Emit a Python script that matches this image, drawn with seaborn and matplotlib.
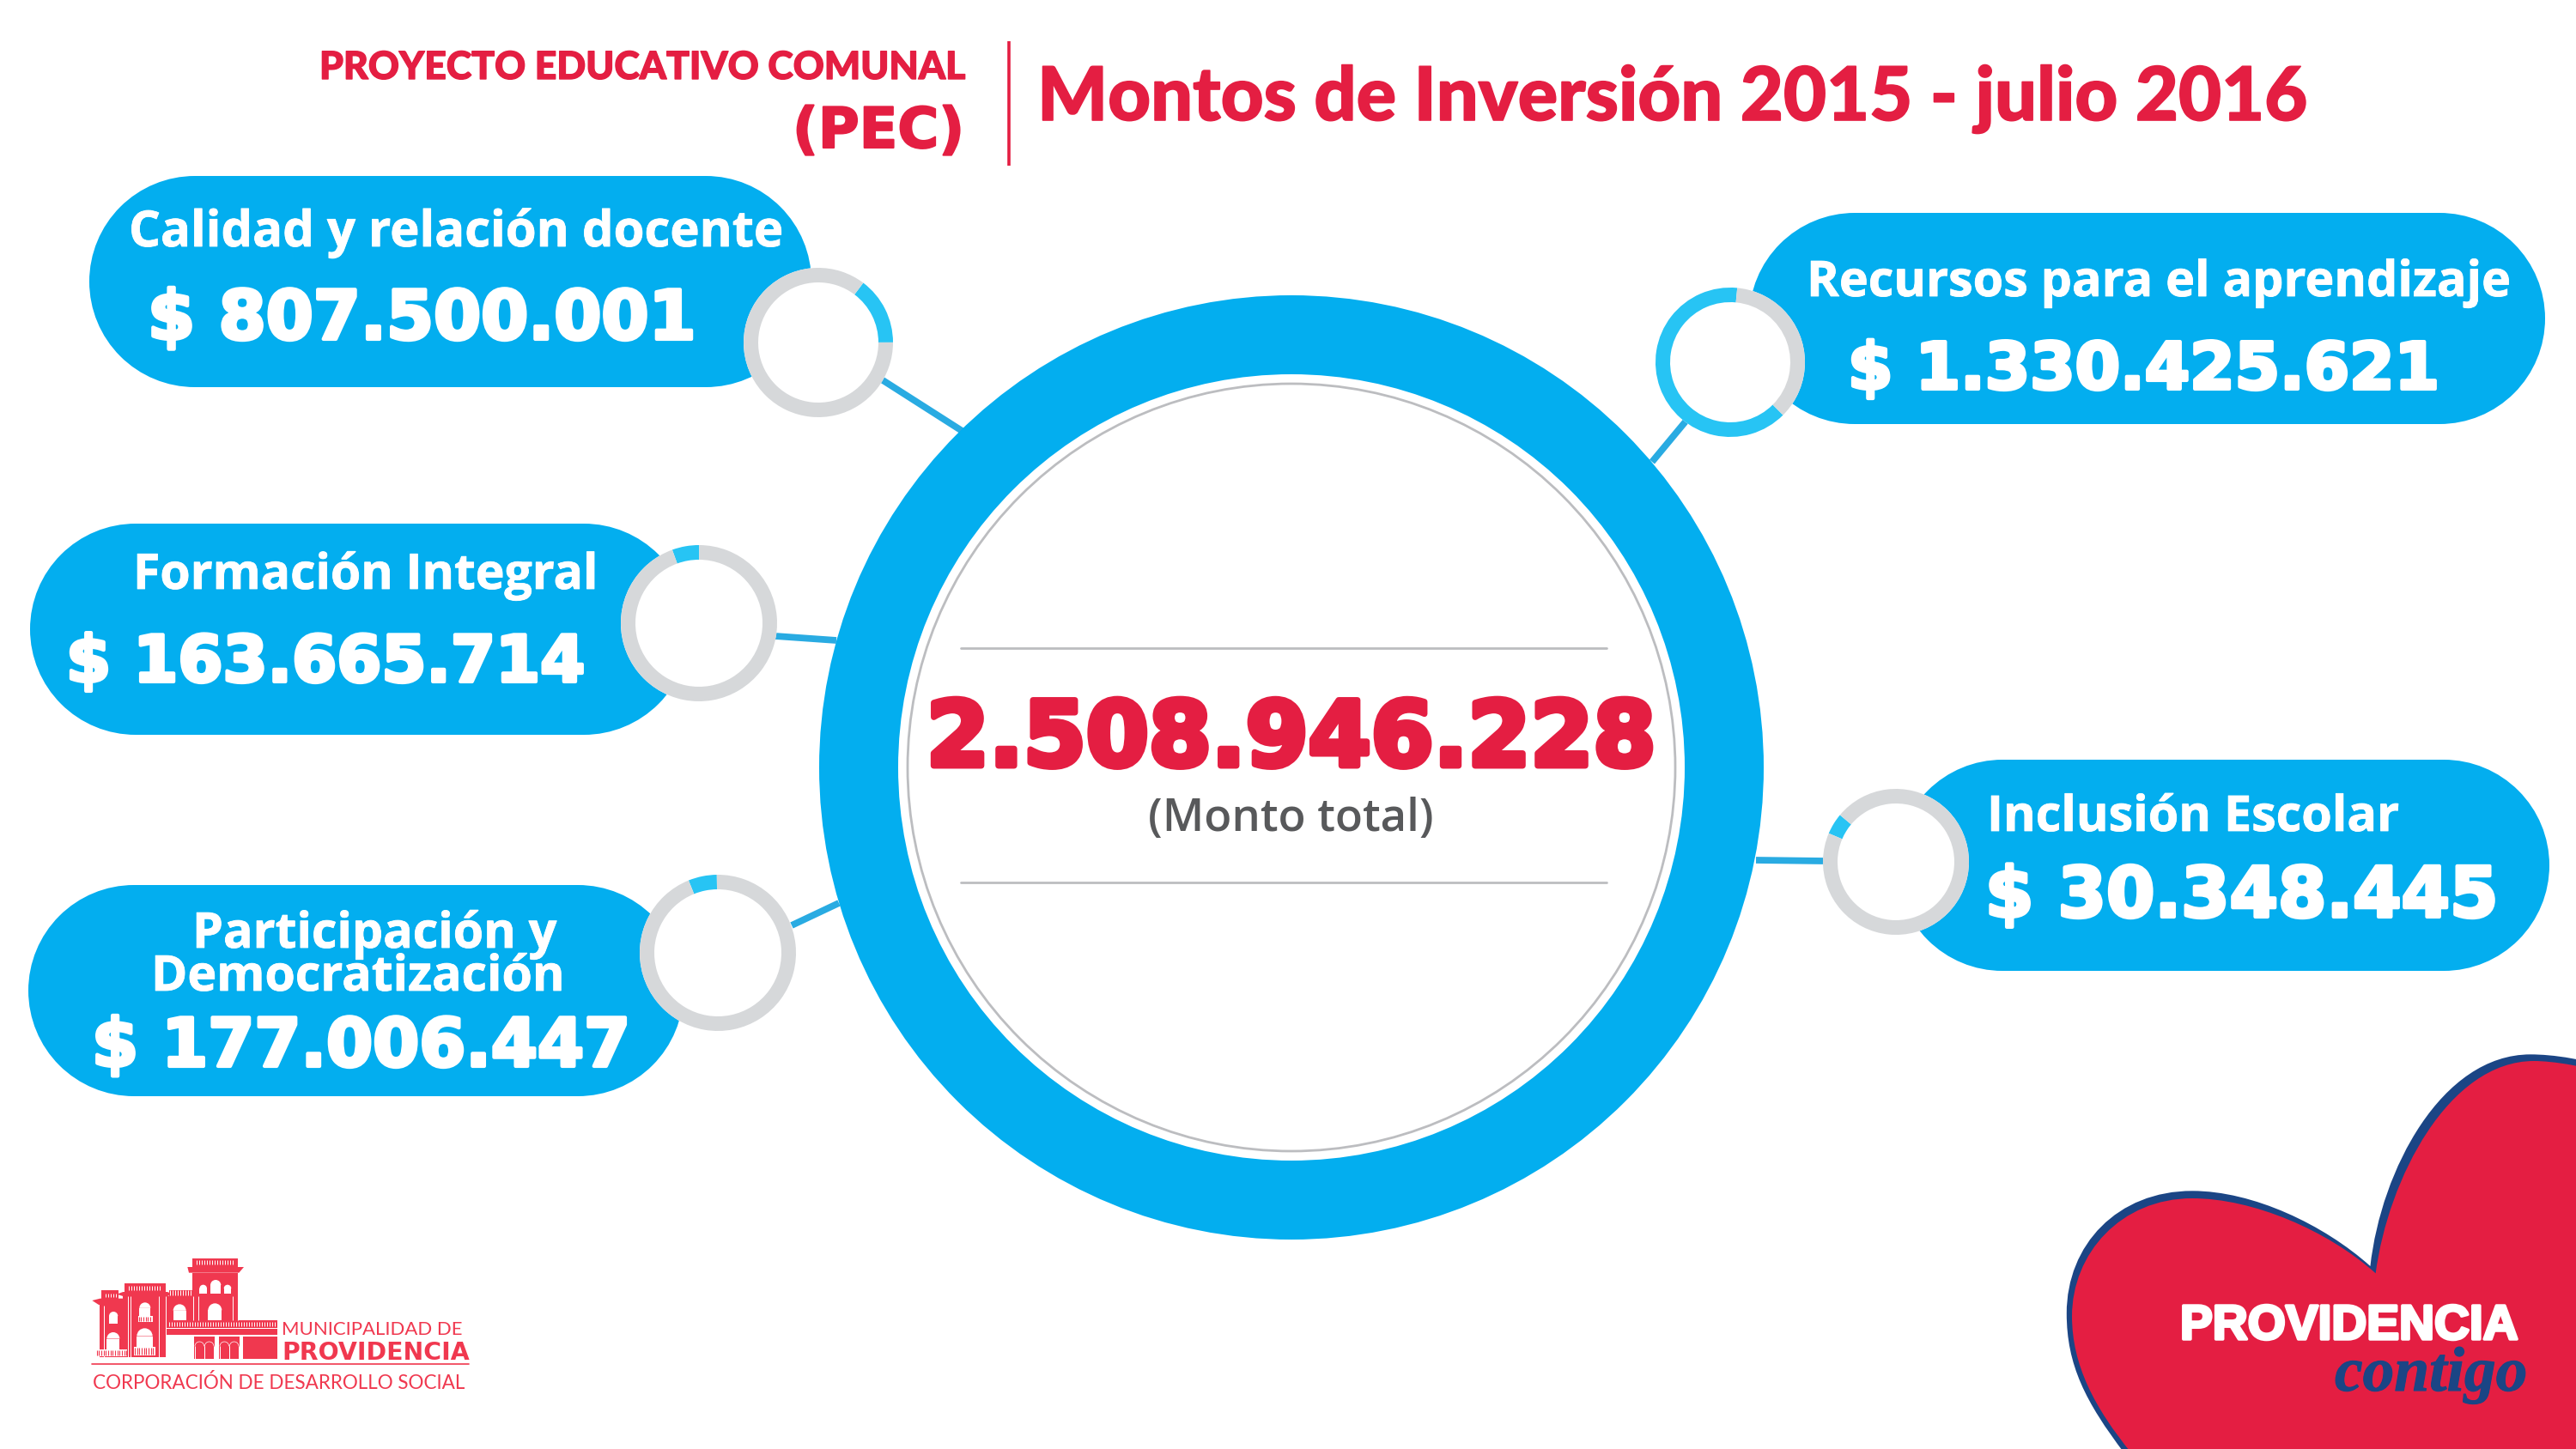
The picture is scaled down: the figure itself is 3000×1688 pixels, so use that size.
"""
Montos de Inversión PEC 2015 - julio 2016 (infografía).
"""

import matplotlib
matplotlib.use('Agg')
import matplotlib.pyplot as plt
import matplotlib.patheffects as pe
from matplotlib.patches import Circle, Rectangle, PathPatch, Wedge, Polygon
from matplotlib.path import Path
import seaborn as sns

# ── Datos ──────────────────────────────────────────────────────────────────────

CATEGORIAS = ['Calidad y relación docente', 'Recursos para el aprendizaje',
              'Formación Integral', 'Participación y\nDemocratización', 'Inclusión Escolar']
MONTOS = ['$ 807.500.001', '$ 1.330.425.621', '$ 163.665.714', '$ 177.006.447', '$ 30.348.445']
# porcentaje del anillo pintado
ARCO_PCT = [14.7, 64.0, 5.6, 5.9, 4.7]
MONTO_TOTAL = '2.508.946.228'

# ── Layout (px sobre 3000x1688, y hacia abajo) ─────────────────────────────────

W, H = 3000, 1688
AZUL, CELESTE, GRIS = '#03aeef', '#27c4f4', '#d6d8da'
LINEA = '#29abe2'
ROJO, ROJO_LOGO, MARINO = '#e41e42', '#f0384f', '#1b4585'

PILDORAS = [(104, 945, 205, 451), (2037, 2964, 248, 494), (35, 803, 610, 856),
            (33, 796, 1031, 1277), (2209, 2969, 885, 1131)]
ANILLOS = [(953, 399, 87), (2015, 422, 87), (814, 726, 91), (836, 1110, 91), (2208, 1004, 85)]
ANILLO_INICIO = [37, 135, 340, 338, 293]   # grados horarios desde arriba
CONECTORES = [((1025, 441), (1122, 503)), ((1963, 491), (1924, 538)),
              ((903, 741), (974, 746)), ((922, 1078), (977, 1052)), ((2045, 1002), (2123, 1003))]
ROTULOS = [[(150, 911, 287)], [(2104, 2923, 345)], [(155, 696, 686)],
           [(224, 648, 1104), (176, 657, 1154)], [(2314, 2794, 968)]]
MONTO_POS = [(172, 809, 397), (2152, 2840, 455), (77, 681, 796), (107, 733, 1244), (2312, 2908, 1070)]

CENTRO = (1504, 894)

sns.set_theme(style='white')
plt.rcParams['font.family'] = ['Lato', 'DejaVu Sans']

fig, ax = plt.subplots(figsize=(W / 100, H / 100), dpi=100)
ax.set_position([0, 0, 1, 1])


def Y(y):
    return H - y


def fit_text(s, x0, x1, base, grosor=0, **kw):
    # ajusta el tamaño de fuente al ancho medido en la imagen
    t = ax.text(x0, Y(base), s, va='baseline', ha='left', fontsize=40, **kw)
    w = t.get_window_extent(fig.canvas.get_renderer()).width
    t.set_fontsize(40 * (x1 - x0) / w)
    if grosor:
        # la fuente original es más pesada que las instaladas
        t.set_path_effects([pe.withStroke(linewidth=grosor, foreground=t.get_color())])
    return t


def pildora(x0, x1, y0, y1, color):
    r = (y1 - y0) / 2
    ax.add_patch(Rectangle((x0 + r, Y(y1)), x1 - x0 - 2 * r, y1 - y0, fc=color, ec='none', zorder=3))
    ax.add_patch(Circle((x0 + r, Y(y0 + r)), r, fc=color, ec='none', zorder=3))
    ax.add_patch(Circle((x1 - r, Y(y0 + r)), r, fc=color, ec='none', zorder=3))


# ── Conectores y separadores ───────────────────────────────────────────────────

for (a, b) in CONECTORES:
    sns.lineplot(x=[a[0], b[0]], y=[Y(a[1]), Y(b[1])], sort=False, estimator=None, ax=ax,
                 color=LINEA, linewidth=5.6, solid_capstyle='butt', zorder=2)

# ── Círculo central ────────────────────────────────────────────────────────────

cx, cy = CENTRO[0], Y(CENTRO[1])
ax.add_patch(Circle((cx, cy), 550, fc=AZUL, ec='none', zorder=3))
ax.add_patch(Circle((cx, cy), 458, fc='white', ec='none', zorder=3))
ax.add_patch(Circle((cx, cy), 447, fc='white', ec='#bcbdc0', lw=2, zorder=3))

for y in (755, 1028):
    sns.lineplot(x=[1119, 1871], y=[Y(y), Y(y)], sort=False, estimator=None, ax=ax,
                 color='#bcbdc0', linewidth=2, zorder=4)

fit_text(MONTO_TOTAL, 1079, 1927, 892, grosor=5, color=ROJO, family='DejaVu Sans', weight='bold', zorder=5)
fit_text('(Monto total)', 1337, 1669, 968, color='#58595b', family='Open Sans', weight='semibold', zorder=5)

# ── Píldoras, anillos y textos ─────────────────────────────────────────────────

for i, cat in enumerate(CATEGORIAS):
    pildora(*PILDORAS[i], AZUL)

    for linea, (x0, x1, base) in zip(cat.split('\n'), ROTULOS[i]):
        fit_text(linea, x0, x1, base, grosor=0.6, color='white', family='Open Sans', weight='bold', zorder=6)
    x0, x1, base = MONTO_POS[i]
    fit_text(MONTOS[i], x0, x1, base - 2, grosor=3, color='white', family='DejaVu Sans',
             weight='bold', zorder=6)

    x, y, r = ANILLOS[i]
    ax.add_patch(Circle((x, Y(y)), r, fc='white', ec='none', zorder=4))
    ax.pie([ARCO_PCT[i], 100 - ARCO_PCT[i]], colors=[CELESTE, GRIS], center=(x, Y(y)), radius=r,
           startangle=90 - ANILLO_INICIO[i], counterclock=False,
           wedgeprops=dict(width=17, edgecolor='none', zorder=5))

# ── Encabezado ─────────────────────────────────────────────────────────────────

fit_text('PROYECTO EDUCATIVO COMUNAL', 372, 1124, 92, grosor=1, color=ROJO, weight='black')
fit_text('(PEC)', 923, 1123, 172, grosor=1.5, color=ROJO, family='DejaVu Sans', weight='bold')
ax.plot([1175, 1175], [Y(48), Y(193)], color=ROJO, lw=2.6, solid_capstyle='butt')
fit_text('Montos de Inversión 2015 - julio 2016', 1208, 2685, 140, grosor=1.2, color=ROJO, weight='black')

# ── Corazón "Providencia contigo" ──────────────────────────────────────────────


def hx(x):
    return 2350 + x / 2.412


def hy(y):
    return Y(1200 + y / 3)


def corazon(puntos, color, z):
    verts = [(hx(x), hy(y)) for x, y in puntos]
    codes = [Path.MOVETO] + [Path.CURVE4] * (len(verts) - 1)
    verts += [(hx(1700), hy(1500)), (hx(320), hy(1500)), (hx(320), hy(1500))]
    codes += [Path.LINETO, Path.LINETO, Path.CLOSEPOLY]
    ax.add_patch(PathPatch(Path(verts, codes), fc=color, ec='none', zorder=z))


corazon([(300, 1480), (190, 1300), (137, 1170), (137, 990), (137, 750), (280, 562), (490, 562),
         (660, 562), (860, 680), (990, 825), (1020, 490), (1190, 85), (1440, 85),
         (1500, 85), (1600, 100), (1700, 150)], MARINO, 2)
corazon([(320, 1480), (215, 1320), (152, 1170), (152, 1000), (152, 780), (290, 588), (490, 588),
         (660, 588), (870, 700), (1005, 850), (1040, 520), (1210, 108), (1450, 108),
         (1500, 108), (1600, 125), (1700, 170)], ROJO, 3)

fit_text('PROVIDENCIA', 2539, 2932, 1560, grosor=2.5, color='white', family='Liberation Sans',
         weight='bold', zorder=6)
fit_text('contigo', 2719, 2943, 1620, grosor=0.8, color=MARINO, family='Liberation Serif', style='italic',
         weight='bold', zorder=6)

# ── Logo municipal ─────────────────────────────────────────────────────────────


def lx(x):
    return 100 + x / 3


def ly(y):
    return Y(1460 + y / 3)


def caja(x0, y0, x1, y1, color=ROJO_LOGO, z=3):
    ax.add_patch(Rectangle((lx(x0), ly(y1)), (x1 - x0) / 3, (y1 - y0) / 3, fc=color, ec='none', zorder=z))


def arco(x0, x1, y0, y1):
    # ventana blanca con remate de arco
    r = (x1 - x0) / 2
    caja(x0, y0 + r, x1, y1, 'white', 4)
    ax.add_patch(Wedge((lx(x0 + r), ly(y0 + r)), r / 3, 0, 180, fc='white', ec='none', zorder=4))


def balaustres(x0, x1, y0, y1, paso=9):
    xs = [lx(x) for x in range(x0, x1, paso)]
    ax.vlines(xs, ly(y1), ly(y0), color='white', lw=0.7, zorder=4)


for c in [(372, 18, 530, 48), (373, 68, 532, 235),                    # torre
          (135, 105, 278, 135), (130, 150, 282, 362),                 # cuerpo central
          (55, 130, 115, 158), (48, 180, 130, 362),                   # cuerpo izquierdo
          (290, 128, 372, 150), (282, 150, 373, 235),                 # enlace
          (282, 235, 668, 285), (548, 292, 668, 368),
          (378, 292, 450, 368), (465, 292, 538, 368)]:
    caja(*c)
for p in [[(355, 48), (552, 48), (535, 68), (360, 68)],
          [(108, 143), (130, 135), (285, 135), (303, 143), (285, 150), (130, 150)],
          [(22, 165), (50, 158), (130, 158), (130, 180), (45, 180)]]:
    ax.add_patch(Polygon([(lx(x), ly(y)) for x, y in p], fc=ROJO_LOGO, ec='none', zorder=3))

for c in [(397, 423, 110, 142), (435, 472, 93, 142), (482, 508, 110, 142), (427, 475, 175, 235),
          (305, 350, 178, 235), (187, 226, 172, 220), (178, 233, 262, 328),
          (81, 112, 204, 245), (73, 118, 276, 335)]:
    arco(*c)

# balcones y balaustradas
caja(182, 220, 234, 240, 'white', 4)
caja(168, 328, 243, 358, 'white', 4)
caja(35, 335, 145, 360, 'white', 3)
for c in [(182, 234, 220, 240), (168, 243, 328, 358), (35, 145, 335, 360)]:
    ax.vlines([lx(x) for x in range(c[0] + 3, c[1], 8)], ly(c[3] - 3), ly(c[2] + 3),
              color=ROJO_LOGO, lw=0.8, zorder=5)
for c in [(388, 515, 24, 40), (150, 262, 115, 130), (68, 112, 140, 153),
          (295, 370, 130, 146), (290, 662, 240, 255)]:
    balaustres(*c)
caja(282, 262, 668, 264, 'white', 4)
caja(288, 295, 368, 360, 'white', 4)

# columnas
for x in (64, 148, 155, 255, 280, 375, 392, 512, 530):
    ax.vlines(lx(x), ly(362 if x < 300 else 235), ly(150 if x > 100 else 182), color='white', lw=0.7, zorder=4)

# arquillos del cuerpo bajo
for x0, x1 in [(380, 414), (414, 448), (467, 501), (501, 535)]:
    r = (x1 - x0) / 2
    ax.add_patch(Wedge((lx(x0 + r), ly(325)), r / 3, 0, 180, width=0.7, fc='white', ec='none', zorder=4))
    ax.vlines([lx(x0), lx(x1)], ly(368), ly(325), color='white', lw=0.7, zorder=4)

fit_text('MUNICIPALIDAD DE', 328, 539, 1555, color=ROJO_LOGO)
fit_text('PROVIDENCIA', 328, 546, 1584, color=ROJO_LOGO, family='DejaVu Sans', weight='bold')
ax.plot([107, 546], [Y(1589), Y(1589)], color=ROJO_LOGO, lw=1.2)
fit_text('CORPORACIÓN DE DESARROLLO SOCIAL', 108, 544, 1618, color=ROJO_LOGO)

# ── Guardar ────────────────────────────────────────────────────────────────────

ax.set_xlim(0, W)
ax.set_ylim(0, H)
ax.set_aspect('auto')
ax.axis('off')
fig.savefig('out.png', dpi=100, facecolor='white')
plt.close()
